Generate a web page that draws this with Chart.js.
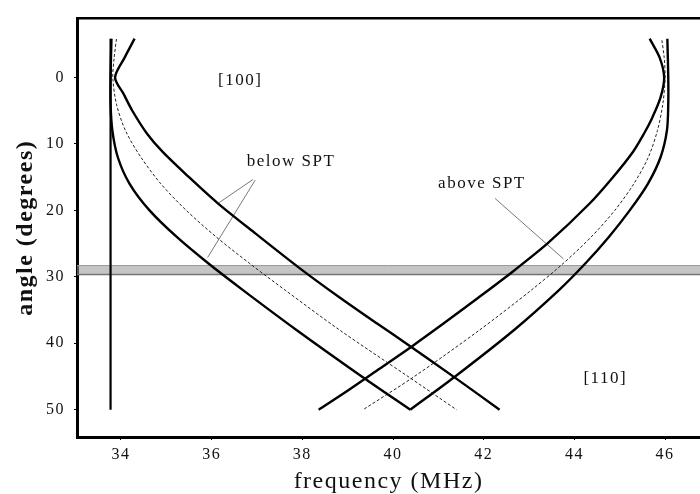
<!DOCTYPE html>
<html><head><meta charset="utf-8">
<script src="https://cdn.jsdelivr.net/npm/chart.js@4"></script>
<style>html,body{margin:0;padding:0;background:#fff}canvas{display:block}</style>
</head><body>
<canvas id="c" width="700" height="494"></canvas>
<script>
// ---- data ----
const xTicks = [34, 36, 38, 40, 42, 44, 46];
const yTicks = [0, 10, 20, 30, 40, 50];

// [100]-side family ("below SPT"), angle -> frequency
const L1_angle = [-5.85, 0, 4, 8, 12, 16, 20, 24, 28, 32, 38, 45, 50];
const L1_freq  = [33.79, 33.77, 33.77, 33.81, 33.93, 34.19, 34.63, 35.23, 35.93, 36.69, 37.87, 39.31, 40.38];
const L2_angle = [-5.8, -3, 0, 4, 8, 12, 16, 20, 24, 28, 32, 38, 45, 50];
const L2_freq  = [33.9, 33.85, 33.82, 33.9, 34.1, 34.44, 34.88, 35.44, 36.1, 36.84, 37.62, 38.82, 40.33, 41.4];
const L3_angle = [-5.85, -3, 0, 2.5, 5, 8.5, 11.2, 15, 18.9, 23.5, 28.8, 33, 37, 40.4, 45.25, 50];
const L3_freq  = [34.3, 34.08, 33.87, 34.06, 34.25, 34.58, 34.92, 35.5, 36.13, 36.97, 37.96, 38.8, 39.64, 40.37, 41.38, 42.35];

// [110]-side family ("above SPT")
const R1_angle = [-5.85, 0, 4, 8, 12, 16, 20, 24, 28, 32, 38, 45, 50];
const R1_freq  = [46.05, 46.07, 46.07, 46.04, 45.9, 45.62, 45.22, 44.76, 44.24, 43.66, 42.67, 41.37, 40.38];
const R2_angle = [-5.6, -3, 0, 4, 8, 12, 16, 20, 24, 28, 32, 38, 45, 50];
const R2_freq  = [45.93, 45.98, 46.0, 45.95, 45.83, 45.63, 45.31, 44.89, 44.37, 43.75, 43.05, 41.91, 40.47, 39.34];
const R3_angle = [-5.85, -3, 0, 3, 6, 8.5, 11.2, 15, 19, 24.9, 29, 33.3, 37, 40.4, 43.8, 47, 50];
const R3_freq  = [45.66, 45.88, 45.98, 45.9, 45.72, 45.53, 45.29, 44.85, 44.33, 43.42, 42.68, 41.85, 41.12, 40.43, 39.71, 39.03, 38.36];

// vertical reference line
const V_angle = [-5.85, 50];
const V_freq  = [33.77, 33.77];

// SPT band (angle range)
const band_freq = [33.03, 46.77];
const band_top = [28.3, 28.3];
const band_bottom = [29.65, 29.65];

// leader lines
const leadBelow1_freq = [36.91, 36.15], leadBelow1_angle = [15.35, 18.9];
const leadBelow2_freq = [36.96, 35.91], leadBelow2_angle = [15.45, 27.1];
const leadAbove_freq  = [42.25, 43.76], leadAbove_angle  = [18.2, 27.3];

// text annotations (data coordinates)
const noteText  = ['[100]', '[110]', 'below SPT', 'above SPT'];
const noteFreq  = [36.63, 44.68, 37.75, 41.96];
const noteAngle = [0.4, 45.3, 12.68, 15.95];

// ---- chart ----
const FONT = '"Liberation Serif", "Times New Roman", serif';
const pts = (f, a) => f.map((v, i) => ({x: v, y: a[i]}));
const solid = (label, f, a) => ({label, data: pts(f, a), showLine: true, borderColor: '#000', borderWidth: 2.4, pointRadius: 0, tension: 0.3, fill: false});
const dashed = (label, f, a) => ({label, data: pts(f, a), showLine: true, borderColor: '#222', borderWidth: 1, borderDash: [3, 2], pointRadius: 0, tension: 0.3, fill: false});
const thin = (label, f, a) => ({label, data: pts(f, a), showLine: true, borderColor: '#555', borderWidth: 0.8, pointRadius: 0, tension: 0, fill: false});

const spacing = {id: 'spacing', beforeDraw(chart) { chart.ctx.letterSpacing = '1.5px'; }};
const notes = {id: 'notes', afterDatasetsDraw(chart) {
  const {ctx, scales: {x, y}} = chart;
  ctx.save();
  ctx.fillStyle = '#111';
  ctx.font = '17px ' + FONT;
  ctx.textAlign = 'center';
  ctx.textBaseline = 'middle';
  noteText.forEach((t, i) => ctx.fillText(t, x.getPixelForValue(noteFreq[i]), y.getPixelForValue(noteAngle[i])));
  ctx.restore();
}};

new Chart(document.getElementById('c'), {
  type: 'scatter',
  data: {datasets: [
    solid('L1', L1_freq, L1_angle),
    dashed('L2', L2_freq, L2_angle),
    solid('L3', L3_freq, L3_angle),
    solid('R1', R1_freq, R1_angle),
    dashed('R2', R2_freq, R2_angle),
    solid('R3', R3_freq, R3_angle),
    {label: 'V', data: pts(V_freq, V_angle), showLine: true, borderColor: '#000', borderWidth: 2.2, pointRadius: 0, tension: 0},
    thin('lb1', leadBelow1_freq, leadBelow1_angle),
    thin('lb2', leadBelow2_freq, leadBelow2_angle),
    thin('la', leadAbove_freq, leadAbove_angle),
    {label: 'bandTop', data: pts(band_freq, band_top), showLine: true, borderColor: '#999', borderWidth: 1, pointRadius: 0, fill: '+1', backgroundColor: 'rgba(150,150,150,0.55)'},
    {label: 'bandBottom', data: pts(band_freq, band_bottom), showLine: true, borderColor: '#666', borderWidth: 1.5, pointRadius: 0, fill: false}
  ]},
  options: {
    responsive: false, animation: false,
    layout: {padding: {top: 13, right: 0, left: 0, bottom: 0}},
    plugins: {legend: {display: false}, tooltip: {enabled: false}},
    scales: {
      x: {
        type: 'linear', position: 'bottom', min: 33.03, max: 46.77,
        afterBuildTicks: s => { s.ticks = xTicks.map(v => ({value: v})); },
        afterFit: s => { s.height = 57; },
        grid: {display: true, drawOnChartArea: false, tickLength: 3, color: '#000'},
        border: {display: true, width: 3, color: '#000'},
        ticks: {color: '#111', font: {family: FONT, size: 16}, padding: 5},
        title: {display: true, text: 'frequency (MHz)', color: '#111', font: {family: FONT, size: 24, lineHeight: 1}, padding: {top: 0, bottom: 0}}
      },
      x2: {
        type: 'linear', position: 'top', min: 33.03, max: 46.77,
        afterFit: s => { s.height = 0; },
        grid: {display: false}, ticks: {display: false},
        border: {display: true, width: 2.5, color: '#000'}
      },
      y: {
        type: 'linear', position: 'left', reverse: true, min: -8.87, max: 54.11,
        afterBuildTicks: s => { s.ticks = yTicks.map(v => ({value: v})); },
        afterFit: s => { s.width = 77; },
        grid: {display: true, drawOnChartArea: false, tickLength: 3, color: '#000'},
        border: {display: true, width: 3, color: '#000'},
        ticks: {color: '#111', font: {family: FONT, size: 16}, padding: 9},
        title: {display: true, text: 'angle (degrees)', color: '#111', font: {family: FONT, size: 24, weight: 'bold'}, padding: {top: 11, bottom: 0}}
      }
    }
  },
  plugins: [spacing, notes]
});
</script>
</body></html>
